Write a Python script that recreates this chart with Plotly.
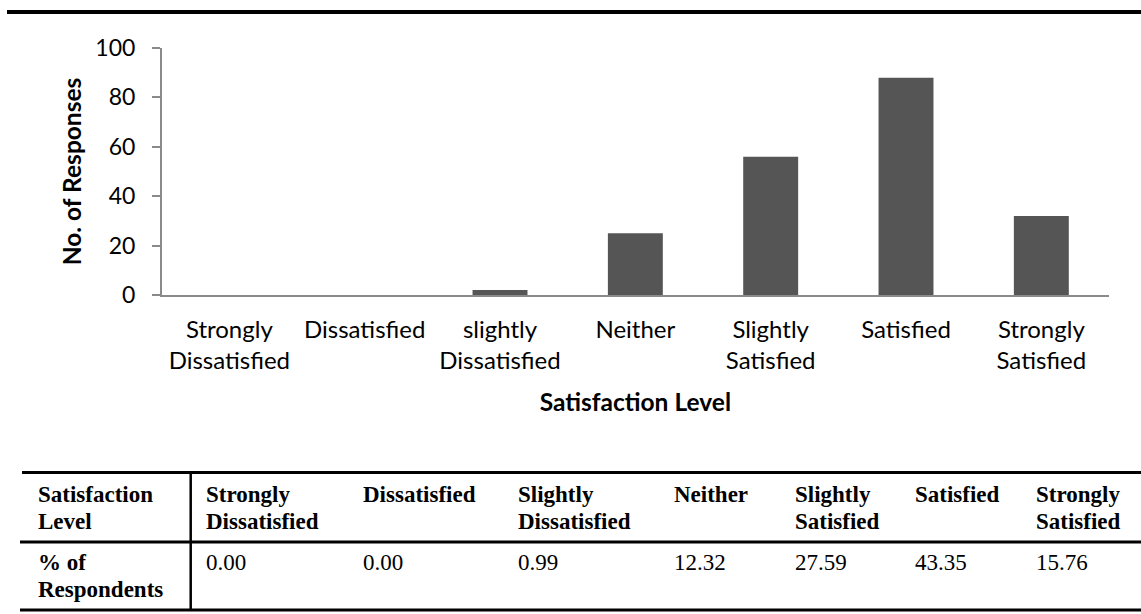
import plotly.graph_objects as go

# Survey results: number of responses per satisfaction level
categories = ["Strongly Dissatisfied", "Dissatisfied", "slightly Dissatisfied", "Neither",
              "Slightly Satisfied", "Satisfied", "Strongly Satisfied"]
tick_labels = ["Strongly<br>Dissatisfied", "Dissatisfied", "slightly<br>Dissatisfied", "Neither",
               "Slightly<br>Satisfied", "Satisfied", "Strongly<br>Satisfied"]
responses = [0, 0, 2, 25, 56, 88, 32]
y_ticks = [0, 20, 40, 60, 80, 100]

# Summary table below the chart
table_row_titles = [["Satisfaction", "Level"], ["% of", "Respondents"]]
table_header = [["Strongly", "Dissatisfied"], ["Dissatisfied"], ["Slightly", "Dissatisfied"], ["Neither"],
                ["Slightly", "Satisfied"], ["Satisfied"], ["Strongly", "Satisfied"]]
pct_respondents = [0.00, 0.00, 0.99, 12.32, 27.59, 43.35, 15.76]

W, H = 1141, 614
SANS = "Lato, Calibri, Carlito, sans-serif"
SERIF = "Liberation Serif, Times New Roman, serif"
SERIF_SIZE = 23


def px(x):
    return x / W


def py(y):
    return 1 - y / H


fig = go.Figure()
fig.add_trace(go.Bar(
    x=categories,
    y=responses,
    marker=dict(color="#555555", line=dict(width=0)),
    hoverinfo="x+y",
))

fig.update_layout(
    template="none",
    width=W, height=H,
    margin=dict(l=0, r=0, t=0, b=0, autoexpand=False),
    paper_bgcolor="white",
    plot_bgcolor="white",
    showlegend=False,
    bargap=0.594,
    font=dict(family=SANS, color="#000000"),
    xaxis=dict(
        domain=[px(161.7), px(1109)],
        automargin=False,
        tickmode="array",
        tickvals=categories,
        ticktext=tick_labels,
        ticks="",
        showgrid=False,
        zeroline=False,
        showline=True,
        linecolor="#8a8a8a",
        linewidth=1.5,
        tickfont=dict(family=SANS, size=24, color="#000000"),
        ticklabelstandoff=12,
        title=dict(text="<b>Satisfaction Level</b>",
                   font=dict(family=SANS, size=24.5, color="#000000"), standoff=21),
        fixedrange=True,
    ),
    yaxis=dict(
        domain=[py(295), py(48)],
        automargin=False,
        range=[0, 100],
        tickmode="array",
        tickvals=y_ticks,
        ticks="outside",
        ticklen=8,
        tickcolor="#8a8a8a",
        tickwidth=1.5,
        showgrid=False,
        zeroline=False,
        showline=True,
        linecolor="#8a8a8a",
        linewidth=1.5,
        tickfont=dict(family=SANS, size=23, color="#000000"),
        ticklabelstandoff=12,
        title=dict(text="<b>No. of Responses</b>",
                   font=dict(family=SANS, size=24.5, color="#000000"), standoff=7),
        fixedrange=True,
    ),
)

shapes = []
# heavy rule across the top of the figure
shapes.append(dict(type="line", xref="paper", yref="paper",
                   x0=px(7), x1=1, y0=py(12), y1=py(12),
                   line=dict(color="#000000", width=4)))
# table rules
for yy, x0 in [(472.5, 22), (542, 20), (610, 20)]:
    shapes.append(dict(type="line", xref="paper", yref="paper",
                       x0=px(x0), x1=1, y0=py(yy), y1=py(yy),
                       line=dict(color="#000000", width=3)))
shapes.append(dict(type="line", xref="paper", yref="paper",
                   x0=px(190.7), x1=px(190.7), y0=py(472.5), y1=py(610),
                   line=dict(color="#000000", width=2.5)))
fig.update_layout(shapes=shapes)

col_left = [36.7, 205, 361.7, 517.3, 673.3, 794.3, 914.3, 1035]
header_baselines = [501.7, 529.4]
row_baselines = [570, 597.5]


def cell(text, x, baseline, bold):
    # place one line of table text with its baseline at the given pixel row
    return dict(text=f"<b>{text}</b>" if bold else text,
                x=px(x - 1), y=py(baseline - 0.33 * SERIF_SIZE),
                xref="paper", yref="paper", xanchor="left", yanchor="middle",
                showarrow=False, align="left",
                font=dict(family=SERIF, size=SERIF_SIZE, color="#000000"))


annotations = []
for lines, baselines in zip(table_row_titles, [header_baselines, row_baselines]):
    for line, b in zip(lines, baselines):
        annotations.append(cell(line, col_left[0], b, True))
for i, (lines, v) in enumerate(zip(table_header, pct_respondents)):
    for line, b in zip(lines, header_baselines):
        annotations.append(cell(line, col_left[i + 1], b, True))
    annotations.append(cell(f"{v:.2f}", col_left[i + 1], row_baselines[0], False))
fig.update_layout(annotations=annotations)

fig.write_html("out.html")
